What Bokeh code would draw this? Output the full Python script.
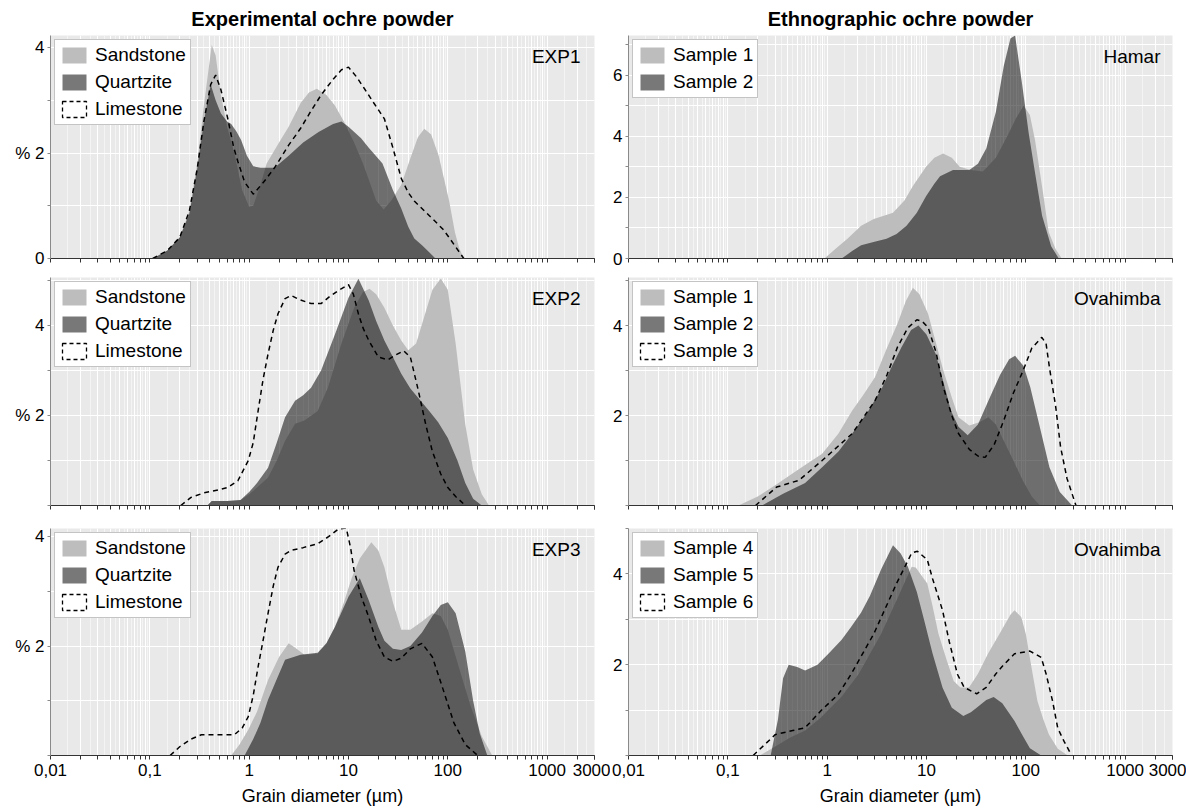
from bokeh.plotting import figure
from bokeh.layouts import column, row
from bokeh.models import (FixedTicker, Range1d, Legend, LegendItem, Label)
from bokeh.embed import file_html
from bokeh.resources import INLINE

# ---------------- data (grain diameter in µm, volume %) ----------------
exp1_sand_d = [0.107, 0.15, 0.2, 0.25, 0.3, 0.35, 0.42, 0.46, 0.52, 0.6, 0.71, 0.85, 1.0, 1.1, 1.3, 1.5, 2.0, 2.5, 3.3, 4.0, 4.8, 6.0, 7.3, 9.0, 11.4, 14, 16, 19, 22.6, 27, 34, 42, 50, 58, 68, 81, 92, 103, 118, 130, 145]
exp1_sand_v = [0, 0.15, 0.4, 0.9, 1.8, 2.9, 4.05, 3.85, 3.1, 2.5, 2.0, 1.3, 0.98, 1.0, 1.4, 1.8, 2.2, 2.5, 2.95, 3.15, 3.22, 3.1, 2.9, 2.6, 2.2, 1.8, 1.5, 1.1, 0.93, 1.1, 1.4, 1.9, 2.3, 2.46, 2.35, 1.95, 1.5, 1.1, 0.5, 0.2, 0]
exp1_quar_d = [0.107, 0.15, 0.2, 0.25, 0.3, 0.35, 0.41, 0.46, 0.52, 0.6, 0.66, 0.75, 0.83, 0.95, 1.1, 1.3, 1.8, 2.5, 3.5, 5, 7, 8.5, 10, 13.4, 16, 19.8, 22, 28, 34, 40, 46, 55, 65, 75]
exp1_quar_v = [0, 0.15, 0.4, 0.85, 1.7, 2.6, 3.3, 3.0, 2.75, 2.6, 2.55, 2.4, 2.25, 1.95, 1.75, 1.72, 1.72, 1.95, 2.2, 2.4, 2.55, 2.6, 2.5, 2.28, 2.1, 1.9, 1.8, 1.3, 0.95, 0.6, 0.38, 0.25, 0.12, 0]
exp1_lime_d = [0.107, 0.15, 0.2, 0.25, 0.3, 0.35, 0.41, 0.46, 0.52, 0.61, 0.7, 0.77, 0.9, 1.1, 1.4, 1.8, 2.5, 3.3, 4.2, 5.3, 7, 8.5, 10, 12, 14.5, 18, 23, 28, 34, 40, 46, 60, 74, 90, 103, 120, 145]
exp1_lime_v = [0, 0.15, 0.4, 0.9, 1.7, 2.6, 3.3, 3.48, 3.2, 2.65, 2.1, 1.84, 1.45, 1.22, 1.45, 1.72, 2.15, 2.47, 2.8, 3.1, 3.4, 3.58, 3.63, 3.45, 3.22, 2.95, 2.65, 2.1, 1.52, 1.25, 1.09, 0.88, 0.71, 0.55, 0.4, 0.22, 0]

exp2_sand_d = [0.38, 0.42, 0.6, 0.82, 1.0, 1.2, 1.55, 1.9, 2.3, 2.9, 3.6, 4.9, 6.2, 8.5, 11.4, 14, 16.3, 19, 23, 28, 34, 40, 48, 58, 70, 85, 100, 120, 150, 180, 220, 260]
exp2_sand_v = [0, 0.1, 0.1, 0.12, 0.25, 0.4, 0.62, 1.0, 1.44, 1.82, 1.89, 2.1, 2.62, 3.6, 4.4, 4.75, 4.82, 4.7, 4.4, 4.0, 3.67, 3.45, 3.6, 4.2, 4.8, 5.05, 4.8, 3.6, 1.8, 0.8, 0.25, 0]
exp2_quar_d = [0.38, 0.42, 0.6, 0.82, 1.0, 1.2, 1.55, 1.9, 2.3, 2.9, 3.5, 4.2, 5.3, 7.3, 10, 12.6, 16, 19, 23, 28, 34, 42, 50, 65, 80, 100, 125, 150, 180, 220]
exp2_quar_v = [0, 0.1, 0.1, 0.12, 0.3, 0.5, 0.84, 1.4, 1.96, 2.33, 2.45, 2.62, 3.0, 3.8, 4.62, 5.04, 4.56, 4.1, 3.67, 3.3, 2.93, 2.6, 2.4, 2.1, 1.85, 1.5, 1.0, 0.5, 0.15, 0]
exp2_lime_d = [0.205, 0.26, 0.35, 0.5, 0.61, 0.77, 0.98, 1.1, 1.23, 1.38, 1.55, 1.75, 1.95, 2.3, 2.65, 3.2, 4.2, 5.3, 6.5, 7.9, 10, 11.2, 12.6, 14, 16, 20, 25, 30, 36, 42, 50, 60, 70, 85, 100, 120, 150]
exp2_lime_v = [0, 0.18, 0.28, 0.35, 0.4, 0.55, 1.0, 1.4, 2.1, 2.8, 3.37, 3.9, 4.26, 4.6, 4.67, 4.58, 4.49, 4.49, 4.65, 4.78, 4.91, 4.7, 4.26, 3.95, 3.67, 3.3, 3.24, 3.35, 3.44, 3.3, 2.6, 1.8, 1.2, 0.7, 0.4, 0.2, 0]

exp3_sand_d = [0.66, 0.8, 0.98, 1.2, 1.55, 2.0, 2.5, 3.0, 3.6, 4.9, 6, 7.3, 9, 10.8, 13, 17, 20, 23, 28, 34, 42, 55, 70, 85, 100, 130, 170, 220, 280]
exp3_sand_v = [0, 0.2, 0.47, 0.8, 1.38, 1.8, 2.05, 1.95, 1.84, 1.86, 2.05, 2.35, 2.8, 3.25, 3.6, 3.9, 3.75, 3.44, 2.8, 2.3, 2.3, 2.45, 2.6, 2.55, 2.3, 1.6, 0.9, 0.35, 0]
exp3_quar_d = [0.9, 1.1, 1.3, 1.55, 1.9, 2.3, 3.3, 4.9, 6, 7.3, 10, 13, 16, 20, 23, 28, 34, 42, 55, 70, 85, 100, 120, 150, 180, 210, 250]
exp3_quar_v = [0, 0.3, 0.6, 1.02, 1.4, 1.75, 1.84, 1.88, 2.05, 2.35, 2.9, 3.24, 2.84, 2.35, 2.1, 1.95, 1.93, 2.0, 2.25, 2.55, 2.75, 2.8, 2.6, 1.9, 1.0, 0.4, 0]
exp3_lime_d = [0.16, 0.2, 0.26, 0.33, 0.5, 0.71, 0.85, 0.98, 1.1, 1.23, 1.38, 1.55, 1.75, 1.95, 2.3, 2.65, 3.5, 4.9, 6.3, 7.9, 9.5, 10.5, 11.4, 13.5, 16, 19, 23, 28, 34, 42, 55, 70, 90, 115, 150, 200]
exp3_lime_v = [0, 0.16, 0.3, 0.38, 0.38, 0.38, 0.5, 0.71, 1.1, 1.62, 2.1, 2.6, 3.1, 3.44, 3.68, 3.75, 3.8, 3.87, 4.0, 4.14, 4.16, 3.8, 3.38, 2.9, 2.53, 2.1, 1.8, 1.72, 1.78, 1.95, 2.05, 1.8, 1.2, 0.6, 0.2, 0]

hamar_s1_d = [0.94, 1.2, 1.6, 2.2, 2.95, 4.6, 6, 7.3, 9.9, 12, 14.7, 18, 21.6, 28, 37, 50, 65, 80, 95, 110, 124, 146, 170, 200, 230]
hamar_s1_v = [0, 0.3, 0.65, 1.07, 1.29, 1.5, 1.9, 2.37, 3.0, 3.3, 3.44, 3.3, 3.0, 2.9, 2.85, 3.3, 4.0, 4.6, 5.0, 4.7, 3.87, 2.35, 0.87, 0.3, 0]
hamar_s2_d = [1.4, 1.8, 2.2, 3.0, 3.96, 5, 6.3, 8, 9.9, 12, 13.7, 18.5, 27, 33, 40, 50, 60, 70, 78, 91, 107, 124, 146, 180, 215]
hamar_s2_v = [0, 0.25, 0.43, 0.55, 0.65, 0.8, 1.07, 1.5, 2.04, 2.45, 2.69, 2.9, 2.9, 3.1, 3.6, 4.8, 6.3, 7.2, 7.3, 5.8, 4.1, 2.8, 1.4, 0.4, 0]

ova1_s1_d = [0.128, 0.2, 0.3, 0.44, 0.6, 0.89, 1.3, 1.79, 2.3, 3.03, 4, 5.1, 6.2, 7.3, 8.5, 10.4, 12.5, 14.8, 18, 21, 27, 34, 42, 50, 60, 75, 93, 115, 139]
ova1_s1_v = [0, 0.2, 0.45, 0.7, 0.9, 1.15, 1.6, 2.11, 2.45, 2.85, 3.5, 4.04, 4.55, 4.84, 4.7, 4.26, 3.6, 3.0, 2.4, 1.96, 1.78, 1.85, 1.96, 1.8, 1.44, 1.0, 0.56, 0.2, 0]
ova1_s2_d = [0.22, 0.36, 0.6, 0.89, 1.3, 1.79, 2.6, 3.6, 4.5, 5.6, 7, 8.3, 10, 12.4, 15, 17.6, 21, 26, 33, 42, 55, 68, 78, 95, 111, 140, 173, 220, 293]
ova1_s2_v = [0, 0.26, 0.5, 0.85, 1.2, 1.6, 2.1, 2.63, 3.1, 3.52, 3.9, 4.0, 3.8, 3.37, 2.7, 2.11, 1.75, 1.56, 1.8, 2.33, 2.9, 3.25, 3.33, 3.1, 2.63, 1.7, 0.85, 0.3, 0]
ova1_s3_d = [0.19, 0.31, 0.52, 0.89, 1.79, 3.03, 4, 5.1, 6.5, 8, 9, 10.4, 12.5, 14.8, 18, 21, 27, 33, 39, 48, 60, 75, 94, 115, 145, 160, 173, 200, 224, 260, 320]
ova1_s3_v = [0, 0.41, 0.56, 1.0, 1.6, 2.33, 2.9, 3.52, 3.95, 4.13, 4.1, 3.96, 3.4, 2.63, 2.0, 1.6, 1.25, 1.1, 1.07, 1.35, 1.89, 2.5, 3.0, 3.5, 3.74, 3.6, 3.07, 2.2, 1.3, 0.6, 0]

ova2_s4_d = [0.21, 0.3, 0.42, 0.6, 0.86, 1.4, 2.07, 3.5, 5.0, 7.1, 7.8, 10.2, 11.5, 13.2, 16, 18.8, 22, 26.8, 33, 41.6, 55, 70, 77, 90, 100, 115, 131, 150, 171, 210, 265]
ova2_s4_v = [0, 0.2, 0.39, 0.55, 0.83, 1.3, 1.79, 2.68, 3.42, 4.16, 4.14, 3.79, 3.3, 2.68, 2.1, 1.64, 1.5, 1.5, 1.8, 2.24, 2.7, 3.1, 3.2, 3.05, 2.68, 1.9, 1.2, 0.8, 0.46, 0.15, 0]
ova2_s5_d = [0.27, 0.32, 0.36, 0.41, 0.5, 0.6, 0.8, 1.03, 1.4, 1.74, 2.2, 2.7, 3.5, 4.6, 5.5, 6.5, 8, 9.3, 11.5, 14.5, 18, 23.5, 28, 32, 40, 47.5, 58, 77, 95, 110, 143]
ova2_s5_v = [0, 0.8, 1.7, 2.0, 1.95, 1.87, 2.0, 2.24, 2.55, 2.83, 3.15, 3.52, 4.1, 4.63, 4.45, 4.16, 3.6, 3.05, 2.25, 1.5, 1.05, 0.87, 0.95, 1.05, 1.22, 1.29, 1.15, 0.76, 0.4, 0.16, 0]
ova2_s6_d = [0.18, 0.3, 0.45, 0.6, 0.86, 1.3, 1.74, 2.95, 5.0, 7.1, 8.1, 10.2, 11.5, 14.5, 17, 20.5, 24, 32, 40, 49.6, 60, 77, 110, 143, 160, 186, 210, 243, 290]
ova2_s6_v = [0, 0.46, 0.55, 0.61, 0.98, 1.35, 1.79, 2.68, 3.79, 4.46, 4.5, 4.31, 3.9, 3.2, 2.5, 1.79, 1.5, 1.36, 1.5, 1.79, 2.0, 2.24, 2.3, 2.16, 1.8, 1.2, 0.6, 0.31, 0]

x_tick_values = [0.01, 0.1, 1, 10, 100, 1000, 3000]
x_tick_labels = ["0,01", "0,1", "1", "10", "100", "1000", "3000"]
exp_names = ["Sandstone", "Quartzite", "Limestone"]
titles = ["Experimental ochre powder", "Ethnographic ochre powder"]
x_title = "Grain diameter (µm)"

# ---------------- style ----------------
FONT = "Liberation Sans"
BG = "#e9e9e9"
LIGHT = "#bdbdbd"
DARK = "#0e0e0e"
DARK_ALPHA = 0.56

decades = [0.01, 0.1, 1, 10, 100, 1000]
grid_major = [m * d for d in decades for m in range(1, 10)] + [3000]
grid_minor = [(m + 0.5) * d for d in decades for m in range(1, 10)]
axis_minor = [m * d for d in decades for m in range(2, 10)]


def make_panel(width, height, ymax, bl, br, bt, bb, series, names, tag,
               ylabels, title=None, bottom=False):
    p = figure(width=width, height=height, x_axis_type="log",
               x_range=Range1d(0.01, 3000), y_range=Range1d(0, ymax),
               output_backend="svg", toolbar_location=None,
               min_border_left=bl, min_border_right=br,
               min_border_top=bt, min_border_bottom=bb)
    p.background_fill_color = BG
    p.border_fill_color = "white"
    p.outline_line_color = None
    if title:
        p.title.text = title
        p.title.align = "center"
        p.title.text_font = FONT
        p.title.text_font_size = "20px"
        p.title.text_font_style = "bold"
        p.title.text_color = "black"
        p.title.standoff = 11

    # grid
    p.xgrid.ticker = FixedTicker(ticks=grid_major, minor_ticks=grid_minor)
    p.xgrid.grid_line_color = "white"
    p.xgrid.grid_line_width = 1
    p.xgrid.minor_grid_line_color = "white"
    p.xgrid.minor_grid_line_alpha = 0.5
    p.ygrid.ticker = FixedTicker(ticks=list(range(0, int(ymax) + 1)))
    p.ygrid.grid_line_color = "white"
    p.ygrid.grid_line_width = 1.2

    # x axis
    xa = p.xaxis[0]
    if bottom:
        xa.ticker = FixedTicker(ticks=x_tick_values, minor_ticks=axis_minor)
        xa.major_label_overrides = {v: t for v, t in zip(x_tick_values, x_tick_labels)}
        xa.major_label_text_font = FONT
        xa.major_label_text_font_size = "17px"
        xa.major_label_text_color = "black"
        xa.major_label_standoff = 4
        xa.axis_label = x_title
        xa.axis_label_text_font = FONT
        xa.axis_label_text_font_size = "18px"
        xa.axis_label_text_font_style = "normal"
        xa.axis_label_text_color = "black"
        xa.axis_label_standoff = 7
    else:
        xa.ticker = FixedTicker(ticks=[], minor_ticks=x_tick_values + axis_minor)
    xa.major_tick_in = 0
    xa.major_tick_out = 4
    xa.minor_tick_in = 0
    xa.minor_tick_out = 4
    xa.axis_line_color = "#333333"
    xa.major_tick_line_color = "#333333"
    xa.minor_tick_line_color = "#333333"

    # y axis: labelled ticks major, the other integers minor
    all_y = list(range(0, int(ymax) + 1))
    ya = p.yaxis[0]
    ya.ticker = FixedTicker(ticks=sorted(ylabels), minor_ticks=[k for k in all_y if k not in ylabels])
    ya.major_label_overrides = dict(ylabels)
    ya.major_label_text_font = FONT
    ya.major_label_text_font_size = "17px"
    ya.major_label_text_color = "black"
    ya.major_label_standoff = 3
    ya.major_tick_in = 0
    ya.major_tick_out = 3
    ya.minor_tick_in = 0
    ya.minor_tick_out = 3
    ya.axis_line_color = "#8a8a8a"
    ya.major_tick_line_color = "#8a8a8a"
    ya.minor_tick_line_color = "#8a8a8a"

    # series
    items = []
    (d1, v1), (d2, v2) = series[0], series[1]
    r1 = p.varea(x=d1, y1=0, y2=v1, fill_color=LIGHT)
    r2 = p.varea(x=d2, y1=0, y2=v2, fill_color=DARK, fill_alpha=DARK_ALPHA)
    items.append(LegendItem(label=names[0], renderers=[r1]))
    items.append(LegendItem(label=names[1], renderers=[r2]))
    if len(series) > 2:
        d3, v3 = series[2]
        p.line(x=d3, y=v3, line_color="black", line_width=1.5, line_dash="5 4")
        proxy = p.patch(x=d3, y=v3, fill_alpha=0, line_color="black",
                        line_width=1.3, line_dash="4 3", visible=False)
        items.append(LegendItem(label=names[2], renderers=[proxy]))

    leg = Legend(items=items, location="top_left")
    leg.label_text_font = FONT
    leg.label_text_font_size = "19px"
    leg.label_text_color = "black"
    leg.glyph_width = 30
    leg.glyph_height = 20
    leg.spacing = 5
    leg.padding = 4
    leg.margin = 4
    leg.label_standoff = 6
    leg.border_line_color = "#8a8a8a"
    leg.border_line_width = 1.5
    leg.background_fill_color = "white"
    leg.background_fill_alpha = 1
    leg.inactive_fill_alpha = 0
    p.add_layout(leg)

    fw = width - bl - br
    fh = height - bt - bb
    p.add_layout(Label(x=fw - 14, y=fh - 10, x_units="screen", y_units="screen",
                       text=tag, text_align="right", text_baseline="top",
                       text_font=FONT, text_font_size="19px", text_color="black"))
    return p


LW, RW = 610, 576
LB, LR = 50, 16
RB, RR = 16, 14
H1, H2, H3 = 268, 246, 298

left_lab_a = {0: "0", 2: "% 2", 4: "4"}
left_lab_b = {2: "% 2", 4: "4"}

p1 = make_panel(LW, H1, 4.23, LB, LR, 35, 10,
                [(exp1_sand_d, exp1_sand_v), (exp1_quar_d, exp1_quar_v), (exp1_lime_d, exp1_lime_v)],
                exp_names, "EXP1", left_lab_a, title=titles[0])
p2 = make_panel(RW, H1, 7.3, RB, RR, 35, 10,
                [(hamar_s1_d, hamar_s1_v), (hamar_s2_d, hamar_s2_v)],
                ["Sample 1", "Sample 2"], "Hamar", {0: "0", 2: "2", 4: "4", 6: "6"}, title=titles[1])
p3 = make_panel(LW, H2, 5.07, LB, LR, 9, 9,
                [(exp2_sand_d, exp2_sand_v), (exp2_quar_d, exp2_quar_v), (exp2_lime_d, exp2_lime_v)],
                exp_names, "EXP2", left_lab_b)
p4 = make_panel(RW, H2, 5.07, RB, RR, 9, 9,
                [(ova1_s1_d, ova1_s1_v), (ova1_s2_d, ova1_s2_v), (ova1_s3_d, ova1_s3_v)],
                ["Sample 1", "Sample 2", "Sample 3"], "Ovahimba", {2: "2", 4: "4"})
p5 = make_panel(LW, H3, 4.15, LB, LR, 14, 57,
                [(exp3_sand_d, exp3_sand_v), (exp3_quar_d, exp3_quar_v), (exp3_lime_d, exp3_lime_v)],
                exp_names, "EXP3", left_lab_b, bottom=True)
p6 = make_panel(RW, H3, 5.0, RB, RR, 14, 57,
                [(ova2_s4_d, ova2_s4_v), (ova2_s5_d, ova2_s5_v), (ova2_s6_d, ova2_s6_v)],
                ["Sample 4", "Sample 5", "Sample 6"], "Ovahimba", {2: "2", 4: "4"}, bottom=True)

layout = column(row(p1, p2), row(p3, p4), row(p5, p6))
open("out.html", "w").write(file_html(layout, INLINE))
